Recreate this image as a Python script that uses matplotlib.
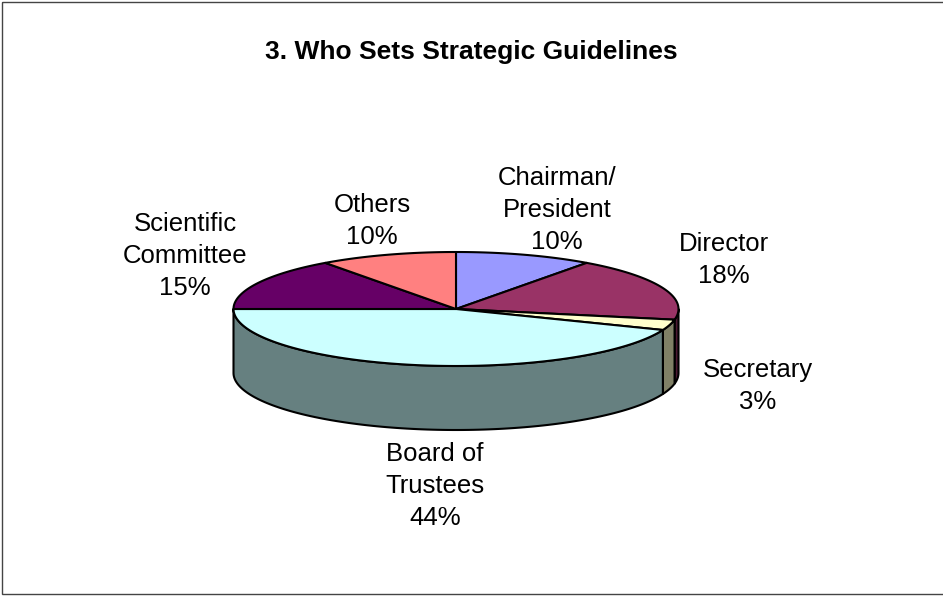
import numpy as np
import matplotlib
matplotlib.use('Agg')
import matplotlib.pyplot as plt
from matplotlib.patches import Polygon, Rectangle

plt.rcParams['font.family'] = ['Liberation Sans', 'DejaVu Sans']

categories = ['Chairman/\nPresident', 'Director', 'Secretary',
              'Board of\nTrustees', 'Scientific\nCommittee', 'Others']
shares = [10, 18, 3, 44, 15, 10]
top_colors = ['#9999FF', '#993366', '#FFFFCC', '#CCFFFF', '#660066', '#FF8080']

# label anchor points (pixels, y downward)
label_xy = [(557, 210), (724, 260), (758, 386), (435, 486), (185, 256), (372, 221)]

# pie geometry in pixels
cx, cy = 456, 309
rx, ry = 222.5, 57
depth = 64


def shade(hex_color, f=0.5):
    r, g, b = matplotlib.colors.to_rgb(hex_color)
    return (r * f, g * f, b * f)


def arc(t1, t2, n=120, dy=0):
    t = np.radians(np.linspace(t1, t2, n))
    return np.column_stack([cx + rx * np.cos(t), cy - ry * np.sin(t) + dy])


fig = plt.figure(figsize=(9.43, 5.96), dpi=100)
ax = fig.add_axes([0, 0, 1, 1])
ax.set_xlim(0, 943)
ax.set_ylim(596, 0)
ax.axis('off')

ax.add_patch(Rectangle((2, 2), 950, 592, fill=False, edgecolor='#444444', lw=1))

# slice angles, starting at 12 o'clock and going clockwise
total = float(sum(shares))
starts = []
a = 90.0
for v in shares:
    starts.append((a, a - v / total * 360.0))
    a -= v / total * 360.0

# front walls
for (t1, t2), col in zip(starts, top_colors):
    hi = min(t1, 0.0)
    lo = max(t2, -180.0)
    if hi <= lo:
        continue
    top = arc(hi, lo)
    bottom = arc(lo, hi, dy=depth)
    ax.add_patch(Polygon(np.vstack([top, bottom]), closed=True,
                         facecolor=shade(col), edgecolor='black', lw=1.5,
                         joinstyle='round'))

# top face wedges
for (t1, t2), col in zip(starts, top_colors):
    pts = np.vstack([[cx, cy], arc(t1, t2)])
    ax.add_patch(Polygon(pts, closed=True, facecolor=col, edgecolor='black',
                         lw=1.5, joinstyle='round'))

for name, v, (x, y) in zip(categories, shares, label_xy):
    ax.text(x, y, f'{name}\n{v}%', ha='center', va='center', fontsize=18.5,
            linespacing=1.4)

ax.text(471, 52, '3. Who Sets Strategic Guidelines', ha='center', va='center',
        fontsize=19, fontweight='bold')

fig.savefig('out.png', dpi=100)
